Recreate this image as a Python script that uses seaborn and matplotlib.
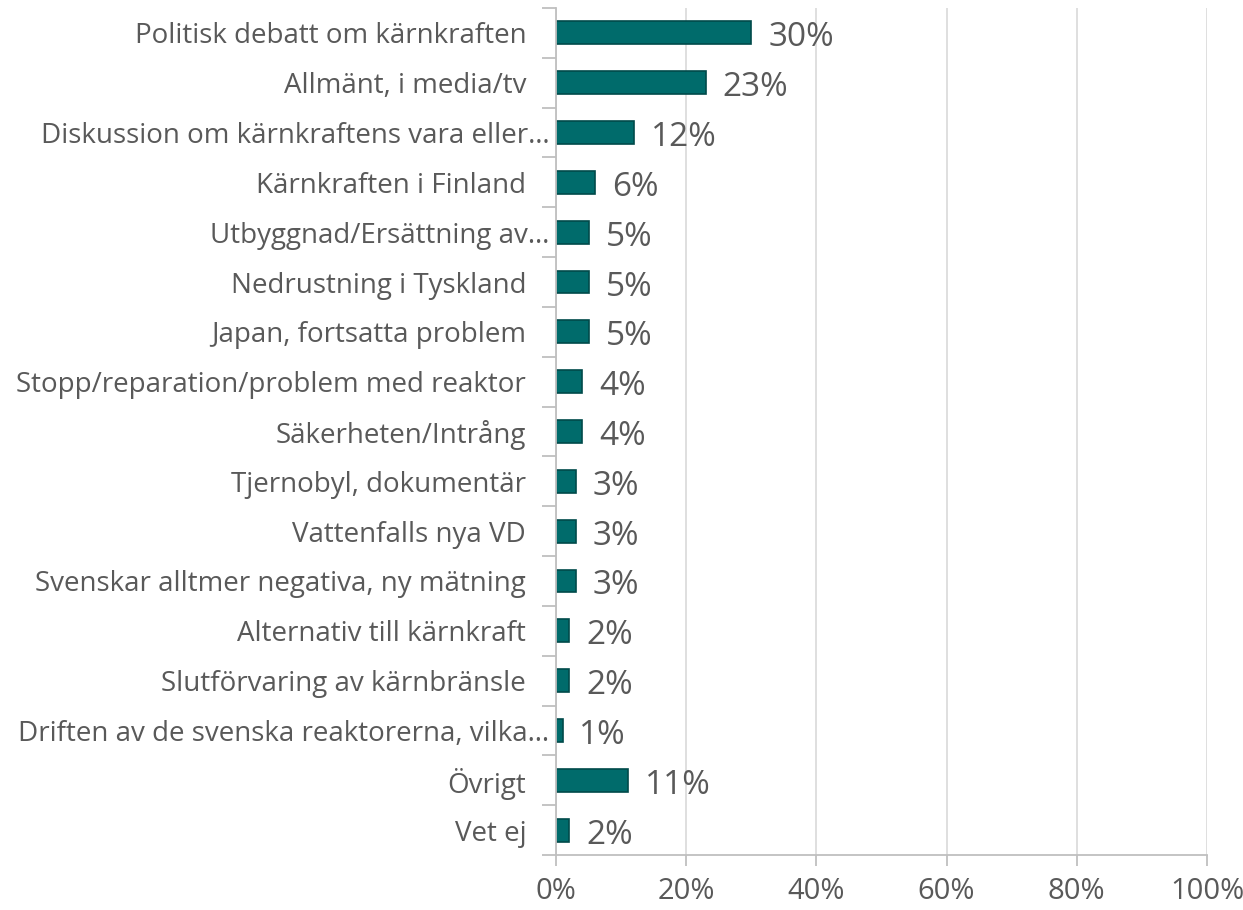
import matplotlib
matplotlib.use("Agg")
import matplotlib.pyplot as plt
import matplotlib.transforms as mtransforms
import seaborn as sns
import pandas as pd
import numpy as np

categories = [
    "Politisk debatt om kärnkraften",
    "Allmänt, i media/tv",
    "Diskussion om kärnkraftens vara eller…",
    "Kärnkraften i Finland",
    "Utbyggnad/Ersättning av…",
    "Nedrustning i Tyskland",
    "Japan, fortsatta problem",
    "Stopp/reparation/problem med reaktor",
    "Säkerheten/Intrång",
    "Tjernobyl, dokumentär",
    "Vattenfalls nya VD",
    "Svenskar alltmer negativa, ny mätning",
    "Alternativ till kärnkraft",
    "Slutförvaring av kärnbränsle",
    "Driften av de svenska reaktorerna, vilka…",
    "Övrigt",
    "Vet ej",
]
values = [30, 23, 12, 6, 5, 5, 5, 4, 4, 3, 3, 3, 2, 2, 1, 11, 2]
xticks = [0, 20, 40, 60, 80, 100]

sns.set_theme(style="white")
plt.rcParams['font.family'] = ['Open Sans', 'DejaVu Sans']

df = pd.DataFrame({"cat": categories, "val": values})

fig = plt.figure(figsize=(12.43, 9.10), dpi=100)
ax = fig.add_axes([556/1243, 1-855/910, (1207-556)/1243, (855-8)/910])

sns.barplot(data=df, x="val", y="cat", orient="h", color="#006B6B",
            edgecolor="#004A4A", linewidth=1.2, width=0.46, saturation=1, ax=ax)

gray = "#595959"
line_gray = "#BFBFBF"
ax.set_xlim(0, 100)
ax.set_ylim(len(categories) - 0.5, -0.5)
ax.set_xticks(xticks)
ax.set_xticklabels([f"{t}%" for t in xticks], fontsize=21, color=gray)
ax.set_xlabel("")
ax.set_ylabel("")
ax.tick_params(axis="y", labelsize=20, labelcolor=gray, length=0, pad=21.5)
ax.set_yticks(np.arange(-0.5, len(categories), 1), minor=True)
ax.tick_params(axis="y", which="minor", length=10, color=line_gray, width=1.3, direction="out", left=True)
ax.tick_params(axis="x", length=8, color=line_gray, width=1.3, direction="out", bottom=True, pad=8)

# labels truncated with an ellipsis sit closer to the axis
for lbl in ax.get_yticklabels():
    if lbl.get_text().endswith("…"):
        lbl.set_transform(lbl.get_transform() + mtransforms.ScaledTranslation(23/100, 0, fig.dpi_scale_trans))

ax.grid(axis="x", color="#D9D9D9", linewidth=1.2)
ax.set_axisbelow(True)
for s in ["top", "right"]:
    ax.spines[s].set_visible(False)
for s in ["left", "bottom"]:
    ax.spines[s].set_color(line_gray)
    ax.spines[s].set_linewidth(1.3)

for i, v in enumerate(values):
    ax.text(v + 2.6, i + 0.1, f"{v}%", va="center", ha="left", fontsize=24, color=gray)

fig.savefig("out.png", dpi=100)
